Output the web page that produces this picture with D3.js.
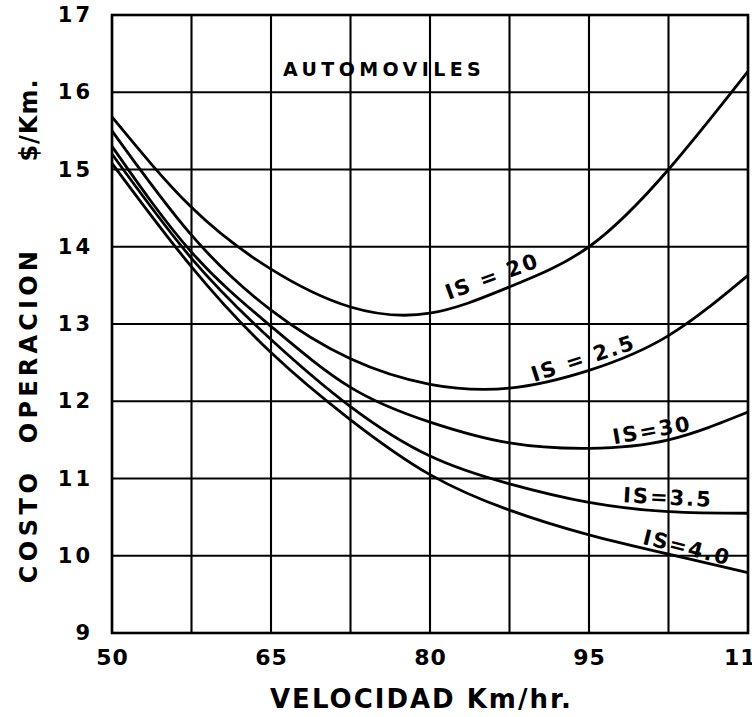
<!DOCTYPE html>
<html>
<head>
<meta charset="utf-8">
<script src="https://cdn.jsdelivr.net/npm/d3@7"></script>
<style>
  html, body { margin: 0; padding: 0; background: #fff; }
  svg { display: block; }
  text { font-family: "DejaVu Sans", "Liberation Sans", sans-serif; font-weight: bold; fill: #000; }
</style>
</head>
<body>
<div id="chart"></div>
<script>
// Operating cost of automobiles ($/Km) against speed (Km/hr) for several IS values
const speeds = [50, 57.5, 65, 72.5, 80, 87.5, 95, 102.5, 110];

const is20 = [15.68, 14.51, 13.71, 13.22, 13.14, 13.48, 14.00, 15.00, 16.27];
const is25 = [15.50, 14.15, 13.18, 12.55, 12.22, 12.17, 12.40, 12.85, 13.63];
const is30 = [15.30, 13.93, 12.97, 12.18, 11.73, 11.46, 11.39, 11.50, 11.86];
const is35 = [15.20, 13.85, 12.80, 11.93, 11.29, 10.93, 10.69, 10.57, 10.55];
const is40 = [15.08, 13.74, 12.63, 11.76, 11.05, 10.59, 10.27, 10.02, 9.78];

const seriesNames = ["IS = 20", "IS = 2.5", "IS=30", "IS=3.5", "IS=4.0"];

const xGrid = [50, 57.5, 65, 72.5, 80, 87.5, 95, 102.5, 110];
const xTicks = [50, 65, 80, 95, 110];
const xTickLabels = ["50", "65", "80", "95", "110"];
const yTicks = [9, 10, 11, 12, 13, 14, 15, 16, 17];
const yTickLabels = ["9", "10", "11", "12", "13", "14", "15", "16", "17"];

const W = 752, H = 717;
const margin = { left: 112, right: 4, top: 15, bottom: 84 };

const x = d3.scaleLinear().domain([50, 110]).range([margin.left, W - margin.right]);
const y = d3.scaleLinear().domain([9, 17]).range([H - margin.bottom, margin.top]);

const svg = d3.select("#chart").append("svg")
  .attr("width", W).attr("height", H)
  .attr("viewBox", `0 0 ${W} ${H}`);

svg.append("rect").attr("width", W).attr("height", H).attr("fill", "#fff");

// grid
const grid = svg.append("g").attr("stroke", "#000").attr("stroke-width", 2.1).attr("fill", "none");
grid.selectAll("line.v").data(xGrid).join("line")
  .attr("class", "v")
  .attr("x1", d => x(d)).attr("x2", d => x(d))
  .attr("y1", y(17)).attr("y2", y(9));
grid.selectAll("line.h").data(yTicks).join("line")
  .attr("class", "h")
  .attr("x1", x(50)).attr("x2", x(110))
  .attr("y1", d => y(d)).attr("y2", d => y(d));
grid.append("rect")
  .attr("x", x(50)).attr("y", y(17))
  .attr("width", x(110) - x(50)).attr("height", y(9) - y(17))
  .attr("stroke-width", 2.6);

// axes (labels only; the grid carries the tick lines)
const xAxis = d3.axisBottom(x).tickValues(xTicks)
  .tickFormat((d, i) => xTickLabels[i]).tickSize(0).tickPadding(16);
const gx = svg.append("g").attr("transform", `translate(0,${y(9)})`).call(xAxis);
gx.select(".domain").remove();
gx.selectAll("text").attr("font-size", 22).attr("font-family", "DejaVu Sans").attr("font-weight", "bold")
  .attr("letter-spacing", 1).attr("fill", "#000");

const yAxis = d3.axisLeft(y).tickValues(yTicks)
  .tickFormat((d, i) => yTickLabels[i]).tickSize(0).tickPadding(19);
const gy = svg.append("g").attr("transform", `translate(${x(50)},0)`).call(yAxis);
gy.select(".domain").remove();
gy.selectAll("text").attr("font-size", 21).attr("font-family", "DejaVu Sans").attr("font-weight", "bold")
  .attr("letter-spacing", 3).attr("fill", "#000");

// curves
const series = [is20, is25, is30, is35, is40];
const line = d3.line()
  .x((d, i) => x(speeds[i]))
  .y(d => y(d))
  .curve(d3.curveNatural);

svg.append("g").selectAll("path").data(series).join("path")
  .attr("d", d => line(d))
  .attr("fill", "none")
  .attr("stroke", "#000")
  .attr("stroke-width", 2.8)
  .attr("stroke-linejoin", "round");

// curve labels, placed in data units along each curve
const labelSpots = [
  { at: [85.85, 13.62], rot: -20 },
  { at: [94.45, 12.56], rot: -18 },
  { at: [100.95, 11.63], rot: -10 },
  { at: [102.45, 10.76], rot: 3 },
  { at: [104.25, 10.11], rot: 14 }
];
svg.append("g").selectAll("text").data(seriesNames).join("text")
  .attr("transform", (d, i) => `translate(${x(labelSpots[i].at[0])},${y(labelSpots[i].at[1])}) rotate(${labelSpots[i].rot})`)
  .attr("text-anchor", "middle")
  .attr("dy", "0.36em")
  .attr("font-size", 21)
  .attr("letter-spacing", 2)
  .text(d => d);

// title inside the plot
svg.append("text")
  .attr("x", 283).attr("y", 76)
  .attr("font-size", 19)
  .attr("letter-spacing", 4.4)
  .text("AUTOMOVILES");

// x axis title
svg.append("text")
  .attr("x", 270).attr("y", 708)
  .attr("font-size", 26)
  .attr("letter-spacing", 2)
  .text("VELOCIDAD Km/hr.");

// y axis title, in three pieces along the left edge
const yTitle = [
  { t: "COSTO", c: 526, ls: 4.5 },
  { t: "OPERACION", c: 345, ls: 4.2 },
  { t: "$/Km.", c: 120, ls: 1 }
];
svg.append("g").selectAll("text").data(yTitle).join("text")
  .attr("transform", d => `translate(37,${d.c}) rotate(-90)`)
  .attr("text-anchor", "middle")
  .attr("font-size", 24)
  .attr("letter-spacing", d => d.ls)
  .text(d => d.t);
</script>
</body>
</html>
